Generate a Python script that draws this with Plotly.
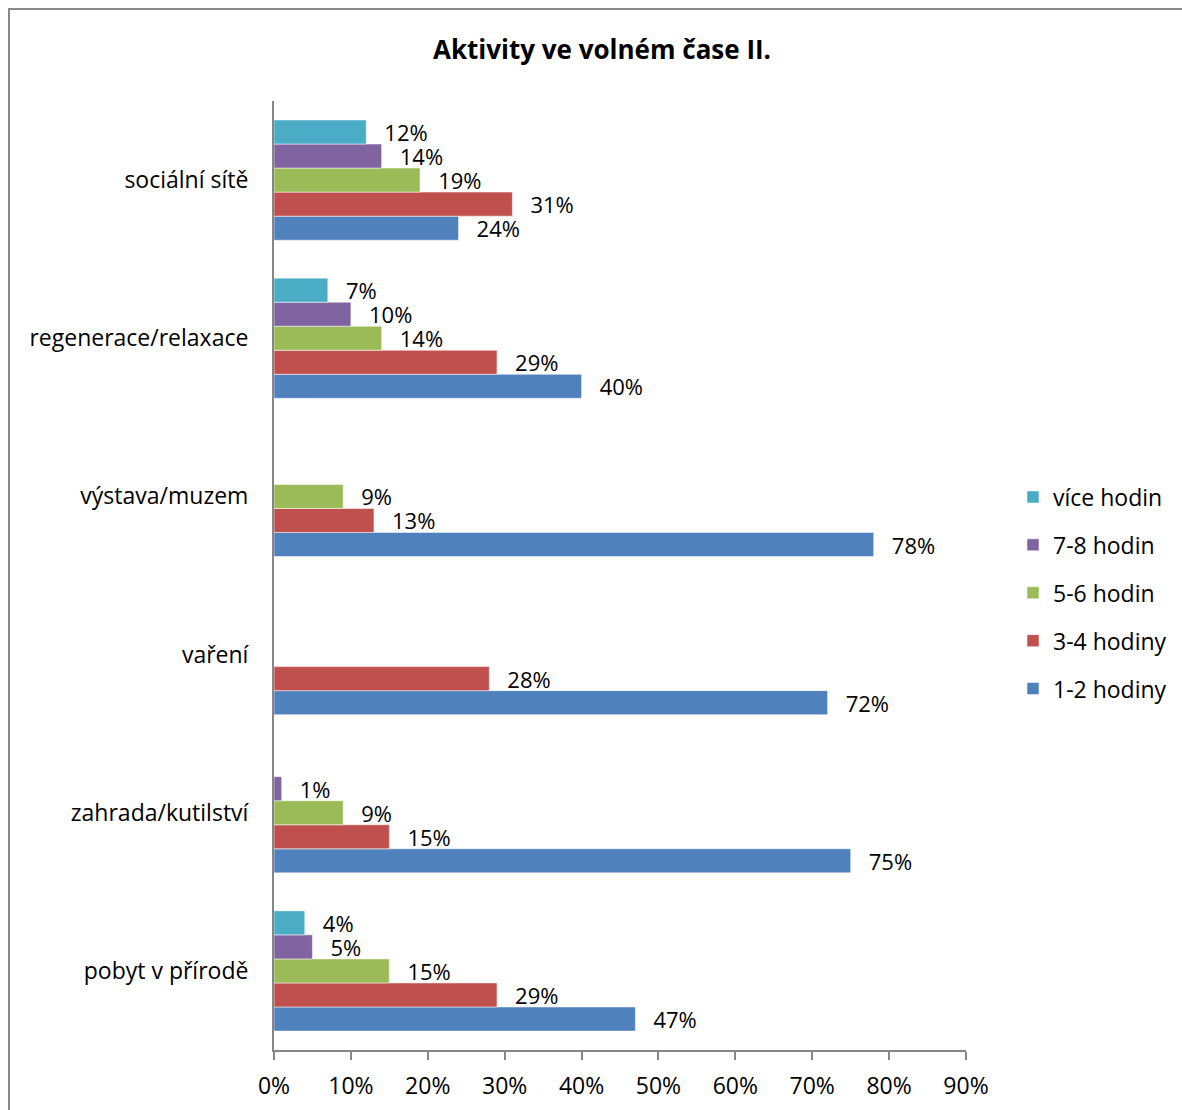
import plotly.graph_objects as go

# Categories (top to bottom as they appear)
categories = ["sociální sítě", "regenerace/relaxace", "výstava/muzem",
              "vaření", "zahrada/kutilství", "pobyt v přírodě"]

# Series values (%), same order as categories
vice_hodin = [12, 7, 0, 0, 0, 4]
h7_8 = [14, 10, 0, 0, 1, 5]
h5_6 = [19, 14, 9, 0, 9, 15]
h3_4 = [31, 29, 13, 28, 15, 29]
h1_2 = [24, 40, 78, 72, 75, 47]

series_names = ["1-2 hodiny", "3-4 hodiny", "5-6 hodin", "7-8 hodin", "více hodin"]
series_values = [h1_2, h3_4, h5_6, h7_8, vice_hodin]
series_colors = ["#4F81BD", "#C0504D", "#9BBB59", "#8064A2", "#4BACC6"]
legend_ranks = [5, 4, 3, 2, 1]

tick_vals = [0, 10, 20, 30, 40, 50, 60, 70, 80, 90]
tick_text = [f"{v}%" for v in tick_vals]

FONT = "Open Sans, Noto Sans, Liberation Sans, sans-serif"

# plotly puts first category at the bottom -> reverse order
cats_plot = categories[::-1]

fig = go.Figure()
for name, vals, col, rk in zip(series_names, series_values, series_colors, legend_ranks):
    v = vals[::-1]
    txt = [("\u00a0\u00a0\u2009" + f"{x}%") if x > 0 else "" for x in v]
    fig.add_trace(go.Bar(
        y=cats_plot, x=v, orientation="h", name=name,
        marker=dict(color=col, line=dict(color="rgba(255,255,255,0.5)", width=1)),
        text=txt, textposition="outside", constraintext="none",
        textfont=dict(family=FONT, size=22, color="#000000"),
        cliponaxis=False, legendgroup=name, legendrank=rk,
    ))

W0, W1 = 274, 966
T0, B0 = 101, 1050
H = 1110
Wtot = 1182
pw = W1 - W0
ph = B0 - T0

fig.update_layout(
    width=Wtot, height=H,
    margin=dict(l=W0, r=Wtot - W1, t=T0, b=H - B0, pad=0, autoexpand=False),
    paper_bgcolor="white", plot_bgcolor="white",
    barmode="group", bargap=0.24, bargroupgap=0,
    font=dict(family=FONT, size=23, color="#000000"),
    title=dict(text="<b>Aktivity ve volném čase II.</b>", x=(602) / Wtot, xanchor="center",
               y=1 - 50 / H, yanchor="middle", yref="container",
               font=dict(family=FONT, size=26, color="#000000")),
    showlegend=True,
    legend=dict(x=(1013 - W0) / pw, xanchor="left", y=(B0 - 593) / ph, yanchor="middle",
                traceorder="grouped", tracegroupgap=15,
                font=dict(family=FONT, size=23, color="#000000"),
                bgcolor="rgba(0,0,0,0)"),
    xaxis=dict(range=[0, 90], tickvals=tick_vals, ticktext=tick_text, automargin=False,
               showgrid=False, zeroline=False, showline=True, linecolor="#868686",
               linewidth=2, ticks="outside", ticklen=8, tickwidth=2, tickcolor="#868686",
               ticklabelstandoff=6, tickfont=dict(family=FONT, size=23, color="#000000"),
               fixedrange=True),
    yaxis=dict(showgrid=False, zeroline=False, showline=True, linecolor="#868686",
               linewidth=2, ticks="", ticklabelstandoff=19, automargin=False,
               tickfont=dict(family=FONT, size=23, color="#000000"),
               categoryorder="array", categoryarray=cats_plot, fixedrange=True),
)

# chart frame border (extends beyond the visible area on right/bottom)
fig.add_shape(type="rect", xref="paper", yref="paper",
              x0=(9 - W0) / pw, x1=(Wtot + 10 - W0) / pw,
              y0=(B0 - (H + 10)) / ph, y1=(B0 - 9) / ph,
              line=dict(color="#898989", width=2), fillcolor="rgba(0,0,0,0)", layer="below")

fig.write_html("out.html")
